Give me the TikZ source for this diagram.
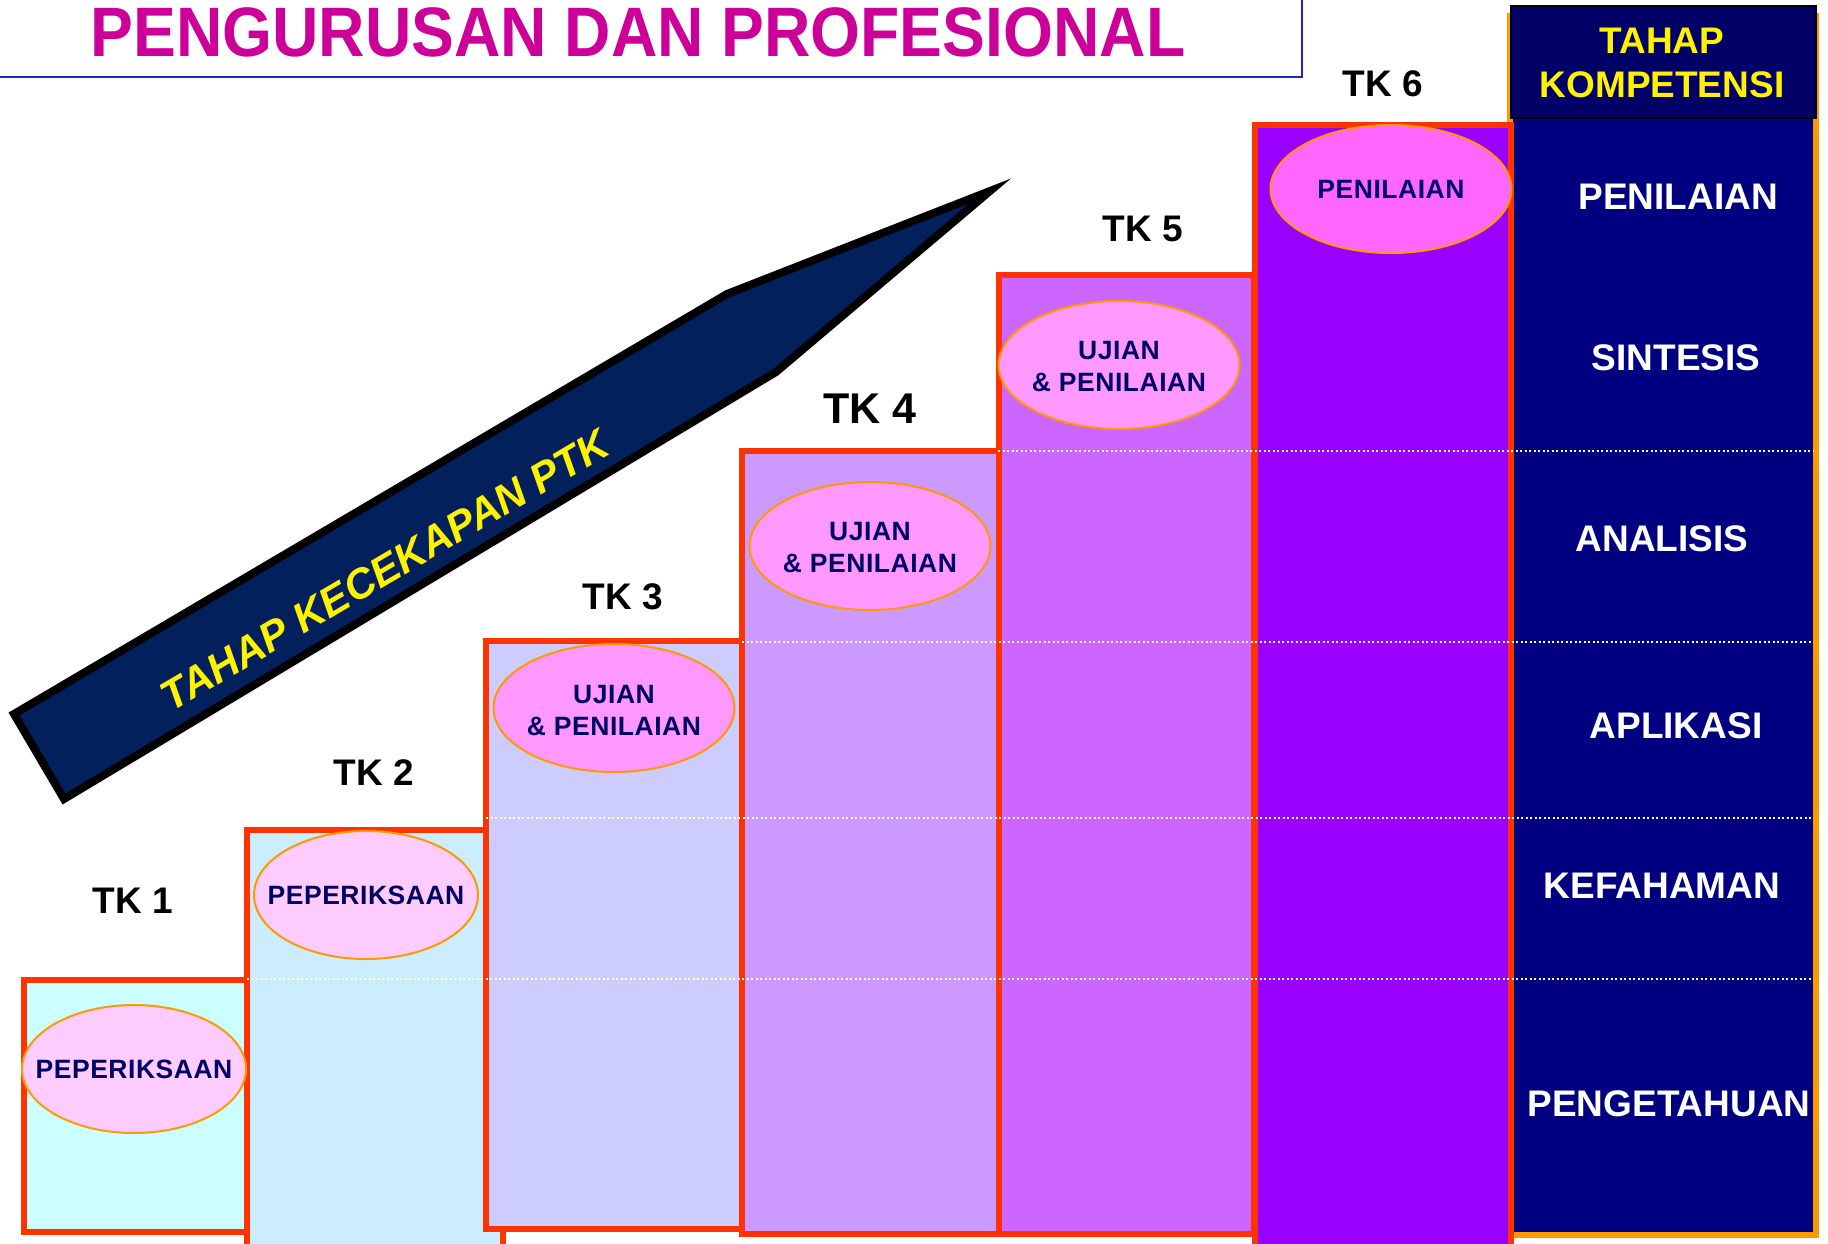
\documentclass[tikz,border=0pt]{standalone}
\usepackage{fontspec}
\usepackage{graphicx}
\setmainfont{Liberation Sans}
\newfontfamily\ellfont[LetterSpace=2]{Liberation Sans}
\usetikzlibrary{shapes.geometric}
\definecolor{titlemag}{HTML}{CC0099}
\definecolor{titleblue}{HTML}{2222CC}
\definecolor{colnavy}{HTML}{000080}
\definecolor{headnavy}{HTML}{000066}
\definecolor{colorange}{HTML}{FF9900}
\definecolor{stepred}{HTML}{FF3300}
\definecolor{tkone}{HTML}{CCFFFF}
\definecolor{tktwo}{HTML}{CCECFF}
\definecolor{tkthree}{HTML}{CCCCFF}
\definecolor{tkfour}{HTML}{CC99FF}
\definecolor{tkfive}{HTML}{CC66FF}
\definecolor{tksix}{HTML}{9900FF}
\definecolor{ellA}{HTML}{FFCCFF}
\definecolor{ellB}{HTML}{FF99FF}
\definecolor{ellC}{HTML}{FF66FF}
\definecolor{elltext}{HTML}{000066}
\definecolor{arrownavy}{HTML}{02205C}
\definecolor{dotcol}{HTML}{FFFFCC}
\tikzset{
  stepbox/.style={draw=stepred, line width=6pt, line join=miter},
  ellbox/.style={ellipse, draw=colorange, line width=2pt, inner sep=0pt,
    minimum width=#1, minimum height=128pt},
  elltxt/.style={text=elltext, align=center, inner sep=0pt,
    font=\ellfont\bfseries\fontsize{26.5}{32}\selectfont},
  tklabel/.style={anchor=base, text=black, font=\bfseries\fontsize{37}{44}\selectfont},
  complabel/.style={anchor=base, text=white, font=\bfseries\fontsize{37}{44}\selectfont},
  headlabel/.style={anchor=base, text=yellow, font=\bfseries\fontsize{37}{44}\selectfont},
  dotline/.style={draw=dotcol, line width=1.6pt, dash pattern=on 2pt off 2.5pt}
}
\begin{document}
\begin{tikzpicture}[x=1pt,y=-1pt]
\useasboundingbox (0,0) rectangle (1828,1243);
\fill[white] (0,0) rectangle (1828,1243);

% title
\draw[titleblue, line width=2pt] (-10,-10) rectangle (1302,77);
\node[anchor=base, text=titlemag, font=\bfseries\fontsize{70}{80}\selectfont, inner sep=0pt] (title) at (638,56)
  {\scalebox{0.917}[1]{PENGURUSAN DAN PROFESIONAL}};

% right column
\draw[draw=colorange, line width=6pt, fill=colnavy] (1510,16) rectangle (1816,1235);
\node[draw=black, line width=1.5pt, fill=headnavy, minimum width=305pt, minimum height=112pt,
  inner sep=0pt, anchor=north west] (head) at (1510,5) {};
\node[headlabel] (tahap) at (1662,53) {TAHAP};
\node[headlabel] (kompetensi) at (1662,97) {KOMPETENSI};

% steps
\draw[stepbox, fill=tktwo]   (247,830) rectangle (503,1248);
\draw[stepbox, fill=tkone]   (24,980)  rectangle (247,1232);
\draw[stepbox, fill=tkthree] (486,641) rectangle (742,1229);
\draw[stepbox, fill=tkfour]  (742,451) rectangle (999,1234);
\draw[stepbox, fill=tkfive]  (999,275) rectangle (1254,1234);
\draw[stepbox, fill=tksix]   (1255,125) rectangle (1511,1250);

% dotted level lines
\draw[dotline] (998,451) -- (1813,451);
\draw[dotline] (742,642) -- (1813,642);
\draw[dotline] (486,818) -- (1813,818);
\draw[dotline] (247,979) -- (1813,979);

% competency labels
\node[complabel] (c1) at (1678,209) {PENILAIAN};
\node[complabel] (c2) at (1676,370) {SINTESIS};
\node[complabel] (c3) at (1662,551) {ANALISIS};
\node[complabel] (c4) at (1676,738) {APLIKASI};
\node[complabel] (c5) at (1662,898) {KEFAHAMAN};
\node[complabel] (c6) at (1669,1116) {PENGETAHUAN};

% arrow
\draw[line width=8pt, line join=miter, miter limit=10, fill=arrownavy]
  (64,799) -- (14,714) -- (727,294) -- (990,191) -- (776,372) -- cycle;
\node[rotate=30.5, text=yellow, font=\bfseries\itshape\fontsize{42}{48}\selectfont, inner sep=0pt]
  (arrowtext) at (385,570) {TAHAP KECEKAPAN PTK};

% TK labels
\node[tklabel] (tk1) at (133,913) {TK 1};
\node[tklabel] (tk2) at (374,785) {TK 2};
\node[tklabel] (tk3) at (623,609) {TK 3};
\node[tklabel, font=\bfseries\fontsize{43}{50}\selectfont] (tk4) at (870,423) {TK 4};
\node[tklabel] (tk5) at (1143,241) {TK 5};
\node[tklabel] (tk6) at (1383,96) {TK 6};

% ellipses
\node[ellbox=224pt, fill=ellA] (e1) at (134,1069) {};
\node[ellbox=224pt, fill=ellA] (e2) at (366,895) {};
\node[ellbox=241pt, fill=ellB] (e3) at (614,708) {};
\node[ellbox=241pt, fill=ellB] (e4) at (870,546) {};
\node[ellbox=241pt, fill=ellB] (e5) at (1119,365) {};
\node[ellbox=241pt, fill=ellC] (e6) at (1391,189) {};

\node[elltxt] (t1) at (e1) {PEPERIKSAAN};
\node[elltxt] (t2) at (e2) {PEPERIKSAAN};
\node[elltxt] (t3) at ([yshift=-2pt]e3) {UJIAN\\\& PENILAIAN};
\node[elltxt] (t4) at ([yshift=-2pt]e4) {UJIAN\\\& PENILAIAN};
\node[elltxt] (t5) at ([yshift=-2pt]e5) {UJIAN\\\& PENILAIAN};
\node[elltxt] (t6) at (e6) {PENILAIAN};
\end{tikzpicture}
\end{document}
